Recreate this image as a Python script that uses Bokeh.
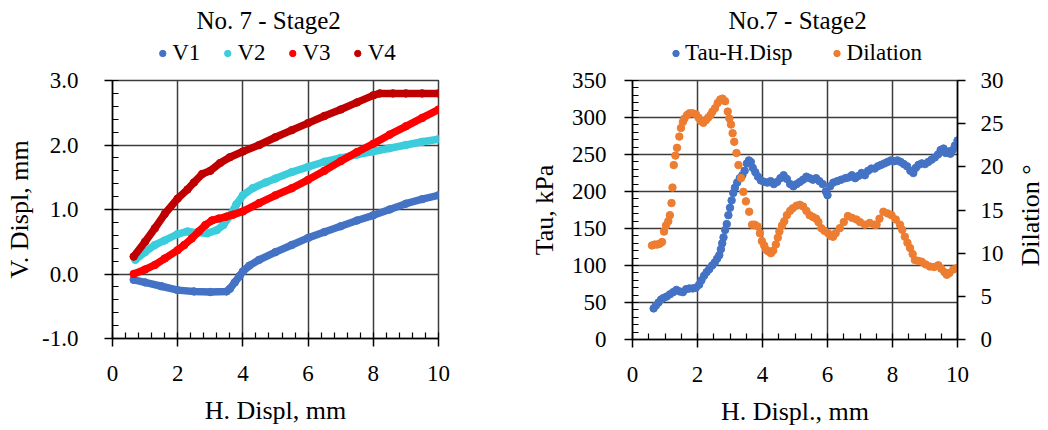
import numpy as np
from bokeh.plotting import figure
from bokeh.models import (Range1d, LinearAxis, FixedTicker, Legend, LegendItem,
                          Label, PrintfTickFormatter)
from bokeh.layouts import row, column
from bokeh.embed import file_html
from bokeh.resources import INLINE

# ---------------- data: left chart (No. 7 - Stage2, vertical displacement) -------------
v1_x = [0.65, 1.0, 1.5, 2.0, 2.5, 3.0, 3.5, 3.6, 3.75, 3.9, 4.0, 4.2, 4.5, 5.0, 5.5, 6.0,
        6.5, 7.0, 7.5, 8.0, 8.5, 9.0, 9.5, 10.0]
v1_y = [-0.09, -0.13, -0.19, -0.25, -0.27, -0.28, -0.27, -0.23, -0.13, -0.03, 0.04, 0.13,
        0.22, 0.34, 0.45, 0.56, 0.65, 0.74, 0.83, 0.91, 1.00, 1.09, 1.16, 1.22]

v2_x = [0.7, 1.0, 1.3, 1.6, 2.0, 2.3, 2.6, 2.9, 3.2, 3.4, 3.6, 3.8, 4.0, 4.3, 4.7, 5.0,
        5.5, 6.0, 6.5, 7.0, 7.5, 8.0, 8.5, 9.0, 9.5, 10.0]
v2_y = [0.22, 0.34, 0.45, 0.52, 0.62, 0.66, 0.64, 0.63, 0.68, 0.76, 0.90, 1.08, 1.22, 1.33,
        1.42, 1.48, 1.58, 1.66, 1.74, 1.80, 1.85, 1.90, 1.95, 2.00, 2.05, 2.09]

v3_x = [0.65, 1.0, 1.3, 1.6, 2.0, 2.2, 2.43, 2.65, 2.85, 3.05, 3.26, 3.5, 3.7, 4.0, 4.5,
        5.0, 5.5, 6.0, 6.5, 7.0, 7.5, 8.0, 8.5, 9.0, 9.5, 10.0]
v3_y = [0.0, 0.07, 0.14, 0.24, 0.37, 0.45, 0.55, 0.66, 0.76, 0.83, 0.86, 0.89, 0.92, 0.97,
        1.10, 1.22, 1.33, 1.46, 1.60, 1.75, 1.89, 2.02, 2.16, 2.29, 2.42, 2.55]

v4_x = [0.65, 1.0, 1.3, 1.6, 2.0, 2.3, 2.5, 2.75, 3.0, 3.3, 3.6, 4.0, 4.5, 5.0, 5.5, 6.0,
        6.5, 7.0, 7.5, 8.0, 8.2, 8.6, 9.0, 9.5, 10.0]
v4_y = [0.27, 0.50, 0.71, 0.93, 1.17, 1.31, 1.42, 1.55, 1.60, 1.72, 1.81, 1.90, 2.00, 2.12,
        2.23, 2.34, 2.45, 2.55, 2.66, 2.77, 2.80, 2.80, 2.80, 2.80, 2.80]

# ---------------- data: right chart (No.7 - Stage2, shear stress and dilation) ---------
tau_x = [0.65, 0.72, 0.8, 0.88, 0.95, 1.05, 1.15, 1.25, 1.35, 1.45, 1.55, 1.65, 1.75, 1.85,
         1.95, 2.05, 2.12, 2.2, 2.28, 2.36, 2.45, 2.53, 2.6, 2.67, 2.72, 2.76, 2.8, 2.85,
         2.9, 2.95, 3.0, 3.05, 3.1, 3.15, 3.22, 3.3, 3.38, 3.45, 3.52, 3.58, 3.64, 3.7,
         3.78, 3.86, 3.95, 4.05, 4.15, 4.25, 4.35, 4.45, 4.55, 4.65, 4.75, 4.85, 4.95,
         5.05, 5.15, 5.25, 5.35, 5.45, 5.55, 5.65, 5.75, 5.85, 5.95, 6.0, 6.08, 6.18, 6.3,
         6.42, 6.55, 6.65, 6.75, 6.85, 6.95, 7.05, 7.15, 7.25, 7.35, 7.45, 7.55, 7.65, 7.75,
         7.85, 7.95, 8.05, 8.15, 8.25, 8.35, 8.45, 8.55, 8.64, 8.72, 8.8, 8.9, 9.0, 9.1,
         9.2, 9.3, 9.4, 9.48, 9.57, 9.64, 9.72, 9.78, 9.85, 9.92, 10.0]
tau_y = [42, 46, 50, 54, 56, 58, 61, 64, 67, 65, 64, 68, 69, 69,
         70, 74, 80, 86, 91, 95, 100, 104, 109, 114, 122, 130, 138, 148,
         156, 168, 178, 188, 198, 205, 212, 218, 222, 228, 238, 242, 240, 232,
         226, 220, 215, 213, 212, 214, 210, 213, 218, 222, 217, 210, 207,
         210, 213, 216, 220, 218, 216, 218, 214, 210, 200, 195, 207, 212, 214,
         216, 218, 219, 222, 218, 221, 225, 222, 228, 231, 231, 234, 236, 238,
         240, 242, 241, 242, 240, 237, 234, 228, 225, 232, 236, 238, 237, 240,
         243, 246, 250, 256, 258, 252, 254, 251, 256, 262, 269]

dil_x = [0.6, 0.68, 0.76, 0.84, 0.91, 0.97, 1.03, 1.1, 1.15, 1.2, 1.23, 1.27, 1.32, 1.37,
         1.44, 1.49, 1.55, 1.6, 1.68, 1.75, 1.85, 1.95, 2.03, 2.1, 2.18, 2.26, 2.33, 2.4,
         2.46, 2.54, 2.62, 2.7, 2.77, 2.85, 2.93, 2.98, 3.03, 3.08, 3.13, 3.2, 3.26, 3.34,
         3.41, 3.49, 3.59, 3.68, 3.76, 3.85, 3.92, 3.98, 4.05, 4.11, 4.18, 4.26, 4.33, 4.41,
         4.47, 4.52, 4.6, 4.67, 4.75, 4.85, 4.93, 5.05, 5.15, 5.25, 5.35, 5.45, 5.55, 5.65,
         5.72, 5.81, 5.9, 6.02, 6.1, 6.17, 6.25, 6.38, 6.5, 6.63, 6.75, 6.89, 7.0, 7.15,
         7.3, 7.45, 7.51, 7.6, 7.72, 7.85, 7.97, 8.1, 8.23, 8.3, 8.38, 8.46, 8.54, 8.62,
         8.69, 8.8, 8.9, 9.02, 9.15, 9.28, 9.41, 9.5, 9.6, 9.67, 9.75, 9.87, 10.0]
dil_y = [10.9, 11.0, 11.0, 11.1, 11.3, 12.5, 13.2, 13.7, 14.4, 15.8, 17.6, 20.2, 21.3, 22.2,
         23.5, 24.5, 25.2, 25.6, 26.0, 26.2, 26.2, 26.1, 25.7, 25.3, 25.1, 25.4, 25.7, 26.0,
         26.4, 26.8, 27.4, 27.8, 27.9, 27.6, 26.4, 25.6, 24.9, 23.9, 22.9, 21.6, 20.2, 18.7,
         17.1, 16.0, 14.8, 13.3, 13.3, 13.1, 12.3, 11.4, 10.9, 10.4, 10.2, 10.0, 10.3, 11.0,
         11.8, 12.5, 13.2, 13.7, 14.4, 14.9, 15.2, 15.5, 15.6, 15.4, 14.9, 14.4, 14.2, 14.0,
         13.6, 12.9, 12.6, 12.3, 12.0, 11.9, 12.3, 12.9, 13.6, 14.3, 14.1, 13.9, 13.6, 13.3,
         13.5, 13.3, 13.3, 14.0, 14.8, 14.6, 14.4, 13.9, 13.3, 12.7, 11.9, 11.2, 10.6, 9.9,
         9.2, 9.1, 9.0, 8.7, 8.45, 8.4, 8.6, 8.2, 7.8, 7.5, 7.7, 8.1, 8.3]

left_x_ticks = [0, 2, 4, 6, 8, 10]
left_y_ticks = [-1.0, 0.0, 1.0, 2.0, 3.0]
tau_ticks = [0, 50, 100, 150, 200, 250, 300, 350]
dil_ticks = [0, 5, 10, 15, 20, 25, 30]

left_series = ["V1", "V2", "V3", "V4"]
right_series = ["Tau-H.Disp", "Dilation"]

# ---------------- style / geometry ----------------
FONT = "Liberation Serif"
GRID = "#3c3c3c"
C_V = ["#4472C4", "#3CCDDD", "#FF0000", "#C00000"]
C_TAU, C_DIL = "#4472C4", "#ED7D31"
TOTAL_H = 430
HEAD_H = 66
TOP_B = 80 - HEAD_H
W1, W2, W3 = 524, 484, 40


def style_axis(ax, size="23px"):
    ax.axis_line_color = "black"
    ax.axis_line_width = 1.5
    ax.major_tick_line_color = "black"
    ax.major_tick_line_width = 1.5
    ax.minor_tick_line_color = "black"
    ax.minor_tick_line_width = 1.2
    ax.major_tick_out = 8
    ax.major_tick_in = 0
    ax.minor_tick_out = 0
    ax.minor_tick_in = 6
    ax.major_label_text_font = FONT
    ax.major_label_text_font_size = size
    ax.major_label_text_color = "black"
    ax.axis_label_text_font = FONT
    ax.axis_label_text_font_size = "26px"
    ax.axis_label_text_font_style = "normal"
    ax.axis_label_text_color = "black"


def style_fig(p):
    p.outline_line_color = GRID
    p.outline_line_width = 1.5
    p.background_fill_color = "white"
    p.border_fill_color = "white"
    for g in (p.xgrid, p.ygrid):
        g.grid_line_color = GRID
        g.grid_line_width = 1.5


def blank(width, height, x_end, y_end, left=0, right=0):
    f = figure(width=width, height=height, x_range=Range1d(0, x_end), y_range=Range1d(0, y_end),
               output_backend="svg", toolbar_location=None, x_axis_location=None,
               y_axis_location=None, min_border_left=left, min_border_right=right,
               min_border_top=0, min_border_bottom=0)
    f.outline_line_color = None
    f.grid.visible = False
    f.background_fill_color = "white"
    f.border_fill_color = "white"
    return f


def header(width, left, right, title, title_x, labels, colors, spacing):
    """Title and legend strip drawn above a chart (same x scale as the chart)."""
    h = blank(width, HEAD_H, 10, HEAD_H, left, right)
    h.add_layout(Label(x=title_x, y=HEAD_H - 20, text=title, text_align="center",
                       text_baseline="middle", text_font=FONT, text_font_size="25px",
                       text_color="black"))
    items = []
    for lab, col in zip(labels, colors):
        # legend key only: a single non-plotted (NaN) point carrying the series colour
        r = h.scatter(x=[np.nan], y=[np.nan], size=7.5, fill_color=col, line_color=col)
        items.append(LegendItem(label=lab, renderers=[r]))
    lg = Legend(items=items, orientation="horizontal", location="bottom_center")
    lg.label_text_font = FONT
    lg.label_text_font_size = "23px"
    lg.label_text_color = "black"
    lg.glyph_width = 16
    lg.glyph_height = 16
    lg.label_standoff = 2
    lg.spacing = spacing
    lg.padding = 0
    lg.margin = 0
    lg.border_line_color = None
    lg.background_fill_alpha = 0
    h.add_layout(lg)
    return h


# ================= left chart =================
h1 = header(W1, 112, 86, "No. 7 - Stage2", 4.79, left_series, C_V, 19)

p1 = figure(width=W1, height=TOTAL_H - HEAD_H, x_range=Range1d(0, 10), y_range=Range1d(-1, 3),
            output_backend="svg", toolbar_location=None,
            min_border_left=112, min_border_right=86, min_border_top=TOP_B,
            min_border_bottom=92)
style_fig(p1)
xt1 = FixedTicker(ticks=left_x_ticks, minor_ticks=list(np.arange(0, 10.001, 0.4)))
yt1 = FixedTicker(ticks=left_y_ticks, minor_ticks=list(np.arange(-1, 3.001, 0.2)))
p1.xaxis.ticker = xt1
p1.yaxis.ticker = yt1
p1.xgrid.ticker = xt1
p1.ygrid.ticker = yt1
p1.yaxis.formatter = PrintfTickFormatter(format="%.1f")
style_axis(p1.xaxis[0])
style_axis(p1.yaxis[0])
p1.xaxis.major_label_standoff = 19
p1.yaxis.major_label_standoff = 26
p1.xaxis.axis_label = "H. Displ, mm"
p1.yaxis.axis_label = "V. Displ, mm"
p1.xaxis.axis_label_standoff = 12
p1.yaxis.axis_label_standoff = 5

for xs, ys, col in [(v1_x, v1_y, C_V[0]), (v2_x, v2_y, C_V[1]),
                    (v3_x, v3_y, C_V[2]), (v4_x, v4_y, C_V[3])]:
    p1.line(xs, ys, line_color=col, line_width=7.5, line_join="round", line_cap="round")
    p1.scatter(xs, ys, size=7.5, fill_color=col, line_color=col)

# ================= right chart =================
h2 = header(W2, 108, 51, "No.7 - Stage2", 5.08, right_series, [C_TAU, C_DIL], 36)

p2 = figure(width=W2, height=TOTAL_H - HEAD_H, x_range=Range1d(0, 10), y_range=Range1d(0, 350),
            output_backend="svg", toolbar_location=None,
            min_border_left=108, min_border_right=51, min_border_top=TOP_B,
            min_border_bottom=91)
style_fig(p2)
p2.extra_y_ranges = {"dil": Range1d(0, 30)}
xt2 = FixedTicker(ticks=left_x_ticks, minor_ticks=list(np.arange(0, 10.001, 0.5)))
yt2 = FixedTicker(ticks=tau_ticks, minor_ticks=list(np.arange(0, 350.001, 10)))
p2.xaxis.ticker = xt2
p2.yaxis.ticker = yt2
p2.xgrid.ticker = xt2
p2.ygrid.ticker = yt2
style_axis(p2.xaxis[0])
style_axis(p2.yaxis[0])
p2.xaxis.major_label_standoff = 19
p2.yaxis.major_label_standoff = 18
p2.xaxis.axis_label = "H. Displ., mm"
p2.yaxis.axis_label = "Tau, kPa"
p2.xaxis.axis_label_standoff = 12
p2.yaxis.axis_label_standoff = 10

ax_r = LinearAxis(y_range_name="dil", ticker=FixedTicker(ticks=dil_ticks, minor_ticks=[]))
style_axis(ax_r)
ax_r.major_label_standoff = 15
p2.add_layout(ax_r, "right")

p2.scatter(tau_x, tau_y, size=7.5, fill_color=C_TAU, line_color=C_TAU)
p2.scatter(dil_x, dil_y, size=7.5, fill_color=C_DIL, line_color=C_DIL, y_range_name="dil")

# secondary-axis title, in a narrow strip at the right edge (reads bottom to top)
s3 = blank(W3, TOTAL_H, W3, TOTAL_H)
s3.add_layout(Label(x=22, y=215, text="Dilation °", angle=np.pi / 2, text_align="center",
                    text_baseline="middle", text_font=FONT, text_font_size="26px",
                    text_color="black"))

layout = row(column(h1, p1), column(h2, p2), s3)
open("out.html", "w").write(file_html(layout, INLINE))
